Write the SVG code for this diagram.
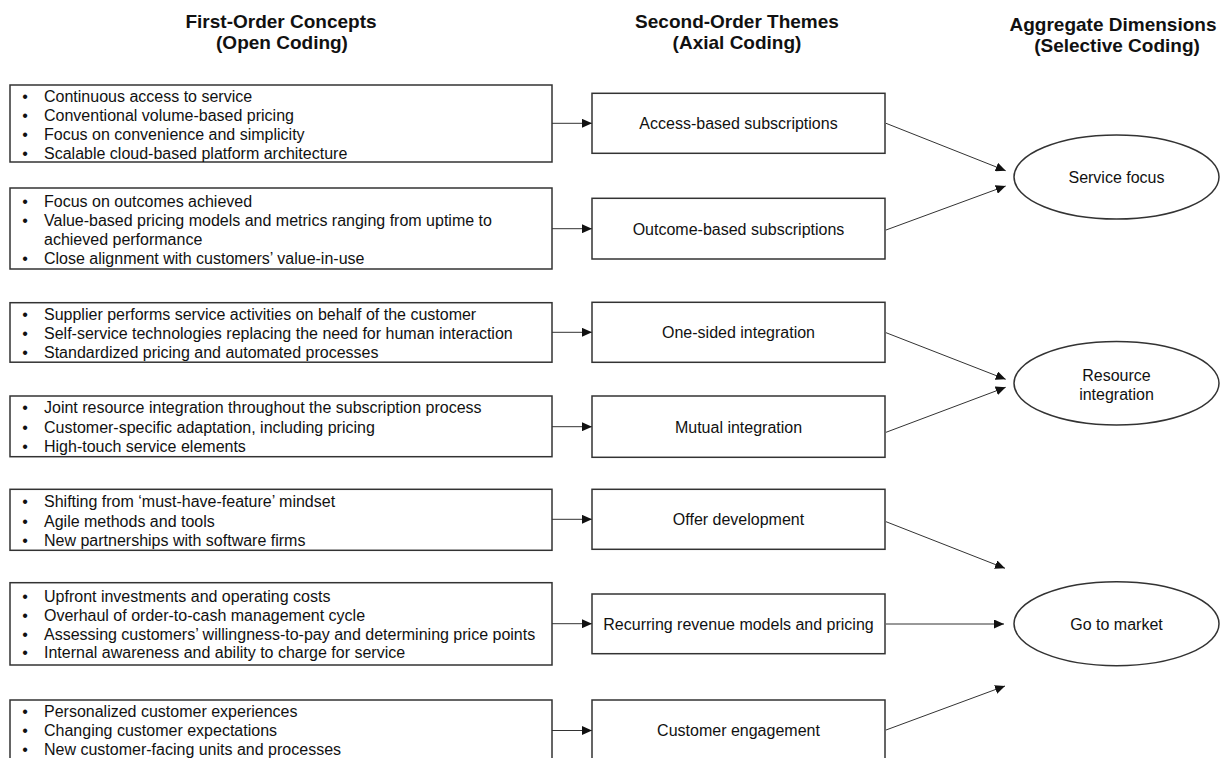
<svg xmlns="http://www.w3.org/2000/svg" width="1224" height="758" viewBox="0 0 1224 758">
<defs>
<style>
text{font-family:"Liberation Sans",Arial,sans-serif;fill:#111}
.h{font-size:19px;font-weight:bold;text-anchor:middle}
.t{font-size:16px}
.c{font-size:16px;text-anchor:middle}
.b{font-size:16px;text-anchor:middle}
.box{fill:#fff;stroke:#333;stroke-width:1.5}
.ell{fill:#fff;stroke:#333;stroke-width:1.5}
.con{stroke:#333;stroke-width:1;fill:none;marker-end:url(#ah)}
</style>
<marker id="ah" markerUnits="userSpaceOnUse" markerWidth="11" markerHeight="9" refX="10" refY="4.5" orient="auto">
<path d="M0,0 L10,4.5 L0,9 z" fill="#111"/>
</marker>
</defs>
<rect width="1224" height="758" fill="#fff"/>
<g id="headers">
<text class="h" x="281" y="28">First-Order Concepts</text>
<text class="h" x="282" y="49">(Open Coding)</text>
<text class="h" x="737" y="28">Second-Order Themes</text>
<text class="h" x="737" y="49">(Axial Coding)</text>
<text class="h" x="1113" y="31">Aggregate Dimensions</text>
<text class="h" x="1117" y="52">(Selective Coding)</text>
</g>
<g id="connectors">
<line class="con" x1="552" y1="123.3" x2="592" y2="123.3"/>
<line class="con" x1="552" y1="228.7" x2="592" y2="228.7"/>
<line class="con" x1="552" y1="332.3" x2="592" y2="332.3"/>
<line class="con" x1="552" y1="426.7" x2="592" y2="426.7"/>
<line class="con" x1="552" y1="519.3" x2="592" y2="519.3"/>
<line class="con" x1="552" y1="623.7" x2="592" y2="623.7"/>
<line class="con" x1="552" y1="730.5" x2="592" y2="730.5"/>
<line class="con" x1="886" y1="123.3" x2="1005.7" y2="170.7"/>
<line class="con" x1="886" y1="230" x2="1005.7" y2="186"/>
<line class="con" x1="886" y1="332.7" x2="1005.7" y2="379.3"/>
<line class="con" x1="886" y1="432.3" x2="1005.7" y2="387.3"/>
<line class="con" x1="886" y1="521.7" x2="1005" y2="568.3"/>
<line class="con" x1="886" y1="624" x2="1004" y2="624"/>
<line class="con" x1="886" y1="730" x2="1005" y2="686"/>
</g>
<g id="c1">
<rect class="box" x="10" y="85" width="542" height="77"/>
<text class="b" x="25" y="102">•</text><text class="t" x="44" y="102">Continuous access to service</text>
<text class="b" x="25" y="121">•</text><text class="t" x="44" y="121">Conventional volume-based pricing</text>
<text class="b" x="25" y="140">•</text><text class="t" x="44" y="140">Focus on convenience and simplicity</text>
<text class="b" x="25" y="159">•</text><text class="t" x="44" y="159">Scalable cloud-based platform architecture</text>
</g>
<g id="c2">
<rect class="box" x="10" y="188" width="542" height="81"/>
<text class="b" x="25" y="206.7">•</text><text class="t" x="44" y="206.7">Focus on outcomes achieved</text>
<text class="b" x="25" y="225.7">•</text><text class="t" x="44" y="225.7">Value-based pricing models and metrics ranging from uptime to</text>
<text class="t" x="44" y="244.5">achieved performance</text>
<text class="b" x="25" y="263.5">•</text><text class="t" x="44" y="263.5">Close alignment with customers’ value-in-use</text>
</g>
<g id="c3">
<rect class="box" x="10" y="302.7" width="542" height="59.5"/>
<text class="b" x="25" y="320">•</text><text class="t" x="44" y="320">Supplier performs service activities on behalf of the customer</text>
<text class="b" x="25" y="339">•</text><text class="t" x="44" y="339">Self-service technologies replacing the need for human interaction</text>
<text class="b" x="25" y="358">•</text><text class="t" x="44" y="358">Standardized pricing and automated processes</text>
</g>
<g id="c4">
<rect class="box" x="10" y="396" width="542" height="60.7"/>
<text class="b" x="25" y="413.3">•</text><text class="t" x="44" y="413.3">Joint resource integration throughout the subscription process</text>
<text class="b" x="25" y="432.5">•</text><text class="t" x="44" y="432.5">Customer-specific adaptation, including pricing</text>
<text class="b" x="25" y="451.5">•</text><text class="t" x="44" y="451.5">High-touch service elements</text>
</g>
<g id="c5">
<rect class="box" x="10" y="489.3" width="542" height="61"/>
<text class="b" x="25" y="506.7">•</text><text class="t" x="44" y="506.7">Shifting from ‘must-have-feature’ mindset</text>
<text class="b" x="25" y="526.5">•</text><text class="t" x="44" y="526.5">Agile methods and tools</text>
<text class="b" x="25" y="545.5">•</text><text class="t" x="44" y="545.5">New partnerships with software firms</text>
</g>
<g id="c6">
<rect class="box" x="10" y="582.7" width="542" height="82.3"/>
<text class="b" x="25" y="601.7">•</text><text class="t" x="44" y="601.7">Upfront investments and operating costs</text>
<text class="b" x="25" y="620.7">•</text><text class="t" x="44" y="620.7">Overhaul of order-to-cash management cycle</text>
<text class="b" x="25" y="639.5">•</text><text class="t" x="44" y="639.5">Assessing customers’ willingness-to-pay and determining price points</text>
<text class="b" x="25" y="658.3">•</text><text class="t" x="44" y="658.3">Internal awareness and ability to charge for service</text>
</g>
<g id="c7">
<rect class="box" x="10" y="700" width="542" height="80"/>
<text class="b" x="25" y="716.7">•</text><text class="t" x="44" y="716.7">Personalized customer experiences</text>
<text class="b" x="25" y="735.7">•</text><text class="t" x="44" y="735.7">Changing customer expectations</text>
<text class="b" x="25" y="754.7">•</text><text class="t" x="44" y="754.7">New customer-facing units and processes</text>
</g>
<g id="t1"><rect class="box" x="592" y="93.3" width="293" height="60"/><text class="c" x="738.5" y="129.3">Access-based subscriptions</text></g>
<g id="t2"><rect class="box" x="592" y="198.3" width="293" height="60.7"/><text class="c" x="738.5" y="234.7">Outcome-based subscriptions</text></g>
<g id="t3"><rect class="box" x="592" y="302.3" width="293" height="60"/><text class="c" x="738.5" y="338.3">One-sided integration</text></g>
<g id="t4"><rect class="box" x="592" y="396" width="293" height="61.3"/><text class="c" x="738.5" y="432.7">Mutual integration</text></g>
<g id="t5"><rect class="box" x="592" y="489.3" width="293" height="60"/><text class="c" x="738.5" y="525.3">Offer development</text></g>
<g id="t6"><rect class="box" x="592" y="594" width="293" height="59.7"/><text class="c" x="738.5" y="629.7">Recurring revenue models and pricing</text></g>
<g id="t7"><rect class="box" x="592" y="700" width="293" height="80"/><text class="c" x="738.5" y="736">Customer engagement</text></g>
<g id="d1"><ellipse class="ell" cx="1116.5" cy="177" rx="102.5" ry="42"/><text class="c" x="1116.5" y="183.3">Service focus</text></g>
<g id="d2"><ellipse class="ell" cx="1116.5" cy="383.3" rx="102.5" ry="41.7"/><text class="c" x="1116.5" y="380.5">Resource</text><text class="c" x="1116.5" y="399.7">integration</text></g>
<g id="d3"><ellipse class="ell" cx="1116.5" cy="623.7" rx="102.5" ry="42"/><text class="c" x="1116.5" y="630">Go to market</text></g>
</svg>
